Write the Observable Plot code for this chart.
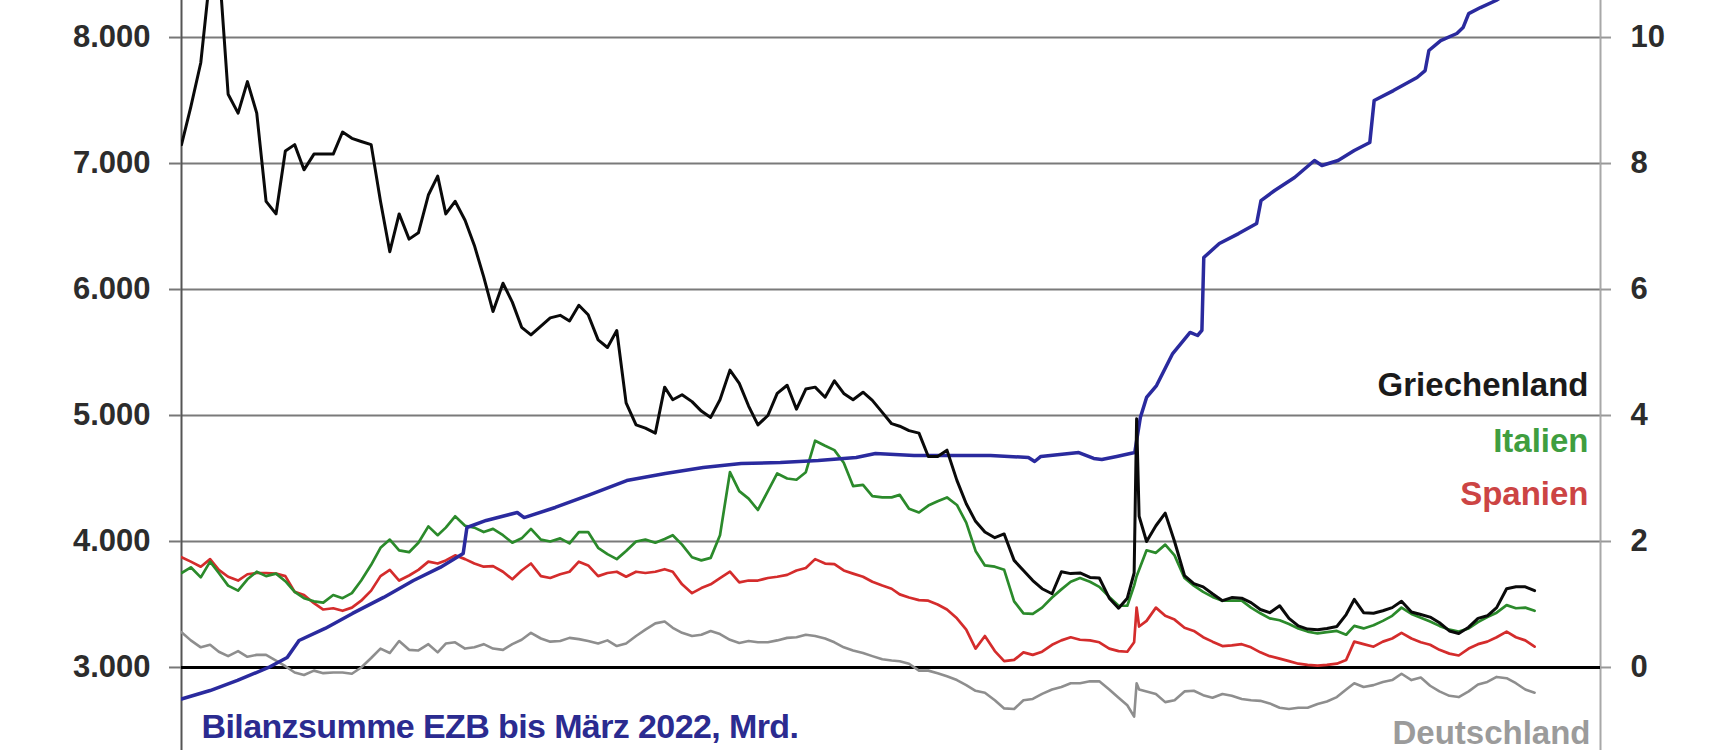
<!DOCTYPE html>
<html>
<head>
<meta charset="utf-8">
<script src="https://cdn.jsdelivr.net/npm/d3@7"></script>
<script src="https://cdn.jsdelivr.net/npm/@observablehq/plot@0.6"></script>
<style>
  html, body { margin: 0; padding: 0; background: #fff; }
  #chart { width: 1720px; height: 750px; overflow: hidden; }
</style>
</head>
<body>
<div id="chart"></div>
<script>
// ---------- DATA ----------
// observation dates for the 10-year yields (semi-monthly, denser around March 2020)
const dates = [
  "2016-01-01","2016-01-16","2016-02-01","2016-02-16","2016-03-01","2016-03-16","2016-04-01","2016-04-16","2016-05-01","2016-05-16","2016-06-01","2016-06-16","2016-07-01","2016-07-16","2016-08-01","2016-08-16","2016-09-01","2016-09-16","2016-10-01","2016-10-16","2016-11-01","2016-11-16","2016-12-01","2016-12-16",
  "2017-01-01","2017-01-16","2017-02-01","2017-02-16","2017-03-01","2017-03-16","2017-04-01","2017-04-16","2017-05-01","2017-05-16","2017-06-01","2017-06-16","2017-07-01","2017-07-16","2017-08-01","2017-08-16","2017-09-01","2017-09-16","2017-10-01","2017-10-16","2017-11-01","2017-11-16","2017-12-01","2017-12-16",
  "2018-01-01","2018-01-16","2018-02-01","2018-02-16","2018-03-01","2018-03-16","2018-04-01","2018-04-16","2018-05-01","2018-05-16","2018-06-01","2018-06-16","2018-07-01","2018-07-16","2018-08-01","2018-08-16","2018-09-01","2018-09-16","2018-10-01","2018-10-16","2018-11-01","2018-11-16","2018-12-01","2018-12-16",
  "2019-01-01","2019-01-16","2019-02-01","2019-02-16","2019-03-01","2019-03-16","2019-04-01","2019-04-16","2019-05-01","2019-05-16","2019-06-01","2019-06-16","2019-07-01","2019-07-16","2019-08-01","2019-08-16","2019-09-01","2019-09-16","2019-10-01","2019-10-16","2019-11-01","2019-11-16","2019-12-01","2019-12-16",
  "2020-01-01","2020-01-16","2020-02-01","2020-02-16","2020-03-01","2020-03-12","2020-03-16","2020-03-20","2020-04-01","2020-04-16","2020-05-01","2020-05-16","2020-06-01","2020-06-16","2020-07-01","2020-07-16","2020-08-01","2020-08-16","2020-09-01","2020-09-16","2020-10-01","2020-10-16","2020-11-01","2020-11-16","2020-12-01","2020-12-16",
  "2021-01-01","2021-01-16","2021-02-01","2021-02-16","2021-03-01","2021-03-16","2021-04-01","2021-04-16","2021-05-01","2021-05-16","2021-06-01","2021-06-16","2021-07-01","2021-07-16","2021-08-01","2021-08-16","2021-09-01","2021-09-16","2021-10-01","2021-10-16","2021-11-01","2021-11-16","2021-12-01","2021-12-16"
];

// 10-year government bond yields, % (right axis)
const griechenland = [
  8.3, 8.9, 9.6, 11.0, 11.2, 9.1, 8.8, 9.3, 8.8, 7.4,
  7.2, 8.2, 8.3, 7.9, 8.15, 8.15, 8.15, 8.5, 8.4, 8.35,
  8.3, 7.4, 6.6, 7.2, 6.8, 6.9, 7.5, 7.8, 7.2, 7.4,
  7.1, 6.7, 6.2, 5.65, 6.1, 5.8, 5.4, 5.28, 5.42, 5.55,
  5.59, 5.5, 5.75, 5.6, 5.2, 5.08, 5.35, 4.2, 3.85, 3.8,
  3.72, 4.45, 4.25, 4.33, 4.22, 4.07, 3.97, 4.25, 4.72, 4.51,
  4.15, 3.85, 4.0, 4.35, 4.48, 4.1, 4.42, 4.45, 4.29, 4.55,
  4.35, 4.25, 4.37, 4.24, 4.05, 3.87, 3.83, 3.76, 3.72, 3.35,
  3.35, 3.45, 2.97, 2.6, 2.32, 2.15, 2.06, 2.12, 1.7, 1.54,
  1.38, 1.25, 1.17, 1.52, 1.49, 1.5, 1.43, 1.42, 1.1, 0.94,
  1.1, 1.5, 3.95, 2.4, 2.0, 2.25, 2.45, 2.0, 1.46, 1.33, 1.28, 1.17,
  1.06, 1.11, 1.1, 1.03, 0.92, 0.87, 0.98, 0.78, 0.66, 0.61,
  0.6, 0.62, 0.65, 0.84, 1.08, 0.87, 0.86, 0.9, 0.95, 1.05,
  0.88, 0.84, 0.8, 0.71, 0.58, 0.54, 0.64, 0.78, 0.82, 0.95,
  1.25, 1.28, 1.28, 1.22
];
const italien = [
  1.5, 1.59, 1.43, 1.68, 1.5, 1.3, 1.22, 1.4, 1.52, 1.45,
  1.49, 1.37, 1.2, 1.1, 1.05, 1.03, 1.15, 1.1, 1.18, 1.38,
  1.63, 1.9, 2.03, 1.86, 1.83, 1.98, 2.24, 2.1, 2.22, 2.4,
  2.25, 2.22, 2.15, 2.2, 2.1, 1.98, 2.05, 2.2, 2.03, 2.0,
  2.05, 1.97, 2.15, 2.15, 1.9, 1.8, 1.72, 1.85, 2.0, 2.03,
  1.98, 2.04, 2.1, 1.95, 1.75, 1.7, 1.74, 2.1, 3.1, 2.8,
  2.68, 2.5, 2.8, 3.08, 3.0, 2.98, 3.1, 3.6, 3.52, 3.45,
  3.25, 2.88, 2.9, 2.72, 2.7, 2.7, 2.74, 2.52, 2.46, 2.57,
  2.64, 2.7, 2.58, 2.3, 1.85, 1.62, 1.6, 1.55, 1.05, 0.86,
  0.85, 0.95, 1.11, 1.24, 1.36, 1.42, 1.36, 1.28, 1.12, 0.98,
  0.98, 1.3, 1.45, 1.55, 1.86, 1.82, 1.95, 1.78, 1.42, 1.3, 1.2, 1.12,
  1.06, 1.06, 1.06, 0.95, 0.86, 0.78, 0.75, 0.69, 0.62, 0.57,
  0.54, 0.56, 0.58, 0.52, 0.66, 0.62, 0.67, 0.74, 0.82, 0.95,
  0.85, 0.79, 0.73, 0.66, 0.6, 0.57, 0.62, 0.72, 0.8, 0.87,
  0.99, 0.94, 0.95, 0.9
];
const spanien = [
  1.75, 1.68, 1.6, 1.72, 1.55, 1.44, 1.38, 1.48, 1.5, 1.5,
  1.49, 1.45, 1.2, 1.15, 1.02, 0.92, 0.94, 0.9, 0.95, 1.06,
  1.22, 1.45, 1.55, 1.38, 1.46, 1.55, 1.68, 1.65, 1.7, 1.78,
  1.72, 1.65, 1.6, 1.61, 1.52, 1.4, 1.54, 1.65, 1.45, 1.42,
  1.48, 1.52, 1.68, 1.62, 1.45, 1.5, 1.52, 1.44, 1.52, 1.5,
  1.52, 1.56, 1.52, 1.32, 1.18, 1.26, 1.32, 1.42, 1.52, 1.35,
  1.38, 1.38, 1.42, 1.44, 1.47, 1.54, 1.58, 1.72, 1.65, 1.64,
  1.54, 1.49, 1.44, 1.36, 1.3, 1.25, 1.16, 1.11, 1.07, 1.06,
  1.0, 0.92, 0.78, 0.6, 0.3, 0.5, 0.26, 0.1, 0.12, 0.24,
  0.2, 0.25, 0.36, 0.43, 0.48, 0.44, 0.43, 0.4, 0.3, 0.26,
  0.25, 0.4, 0.95, 0.65, 0.74, 0.95, 0.82, 0.76, 0.63, 0.58, 0.48, 0.41,
  0.34, 0.35, 0.37, 0.32, 0.24, 0.18, 0.14, 0.1, 0.06, 0.04,
  0.03, 0.04, 0.06, 0.12, 0.41, 0.37, 0.33, 0.41, 0.46, 0.55,
  0.46, 0.4, 0.36, 0.28, 0.22, 0.19, 0.3, 0.37, 0.41, 0.48,
  0.57, 0.48, 0.43, 0.33
];
const deutschland = [
  0.56, 0.43, 0.32, 0.36, 0.25, 0.18, 0.26, 0.17, 0.2, 0.2,
  0.11, 0.02, -0.08, -0.12, -0.05, -0.09, -0.08, -0.08, -0.1, 0.0,
  0.15, 0.3, 0.23, 0.42, 0.28, 0.27, 0.37, 0.24, 0.38, 0.4,
  0.3, 0.32, 0.37, 0.3, 0.28, 0.37, 0.44, 0.55, 0.46, 0.41,
  0.42, 0.47, 0.45, 0.42, 0.38, 0.43, 0.34, 0.38, 0.5, 0.6,
  0.7, 0.73, 0.63, 0.55, 0.5, 0.52, 0.58, 0.53, 0.44, 0.39,
  0.42, 0.4, 0.4, 0.43, 0.47, 0.48, 0.52, 0.5, 0.46, 0.4,
  0.32, 0.27, 0.23, 0.18, 0.13, 0.11, 0.1, 0.06, -0.05, -0.05,
  -0.09, -0.14, -0.2, -0.28, -0.37, -0.4, -0.52, -0.65, -0.66, -0.52,
  -0.5, -0.42, -0.35, -0.31, -0.25, -0.25, -0.22, -0.22, -0.35, -0.48,
  -0.6, -0.78, -0.25, -0.35, -0.38, -0.42, -0.55, -0.52, -0.38, -0.37, -0.44, -0.48,
  -0.42, -0.45, -0.5, -0.52, -0.53, -0.57, -0.64, -0.66, -0.64, -0.64,
  -0.58, -0.54, -0.47, -0.35, -0.25, -0.31, -0.28, -0.23, -0.2, -0.1,
  -0.2, -0.16, -0.29, -0.38, -0.45, -0.47, -0.38, -0.27, -0.23, -0.15,
  -0.17, -0.25, -0.35, -0.4
];

// ECB balance sheet, bn EUR (left axis)
const ezbDates = [
  "2016-01-01","2016-02-16","2016-03-31","2016-05-20","2016-06-19","2016-07-08","2016-08-19","2016-10-02","2016-11-21",
  "2017-01-08","2017-02-20","2017-03-29","2017-04-04","2017-05-05","2017-06-24","2017-07-05","2017-08-24","2017-10-18","2017-12-17",
  "2018-02-17","2018-04-19","2018-06-19","2018-08-21","2018-10-21","2018-12-21",
  "2019-01-21","2019-03-24","2019-05-25","2019-07-25","2019-09-24","2019-10-04","2019-10-14","2019-12-14",
  "2020-01-07","2020-01-20","2020-02-13","2020-03-13","2020-03-22","2020-04-01","2020-04-17","2020-05-13","2020-06-10","2020-06-22","2020-06-29","2020-07-02","2020-07-27","2020-08-27","2020-09-25","2020-10-02","2020-10-24","2020-11-25","2020-12-27",
  "2021-01-08","2021-02-03","2021-03-01","2021-03-26","2021-04-02","2021-05-03","2021-06-10","2021-06-23","2021-06-29","2021-07-18","2021-08-13","2021-08-23","2021-09-01","2021-09-20","2021-10-15","2021-11-24",
  "2022-01-03","2022-02-14","2022-03-25"
];
const ezbBilanz = [
  2750, 2817, 2897, 3000, 3079, 3214, 3310, 3429, 3556,
  3690, 3794, 3905, 4111, 4167, 4230, 4190, 4270, 4370, 4484,
  4540, 4587, 4619, 4627, 4643, 4667,
  4698, 4683, 4683, 4683, 4667, 4635, 4675, 4706,
  4659, 4651, 4675, 4706, 4984, 5143, 5238, 5492, 5659, 5635, 5675, 6254, 6365, 6444, 6524, 6706, 6786, 6889, 7024,
  6984, 7024, 7103, 7167, 7500, 7579, 7683, 7738, 7897, 7976, 8032, 8079, 8190, 8238, 8294, 8420,
  8560, 8680, 8750
];

// axis ticks
const leftTicks = [3000, 4000, 5000, 6000, 7000, 8000];
const rightTicks = [0, 2, 4, 6, 8, 10];

// series names, colours
const seriesNames = ["Deutschland", "Spanien", "Italien", "Griechenland"];
const seriesValues = { Deutschland: deutschland, Spanien: spanien, Italien: italien, Griechenland: griechenland };
const lineColors = { Deutschland: "#8e8e8e", Spanien: "#d42c2c", Italien: "#2b8a2b", Griechenland: "#0a0a0a" };
const labelColors = { Deutschland: "#9b9b9b", Spanien: "#cc4444", Italien: "#3f9e3f", Griechenland: "#1a1a1a" };
const captionText = "Bilanzsumme EZB bis März 2022, Mrd.";

// ---------- BUILD ----------
const xStart = new Date("2016-01-01");
const xEnd = new Date("2022-04-01");
// right axis (%) drawn on the left scale: 0 % = 3.000, 2 % per 1.000
const toLeft = v => 3000 + v * 500;
const fromLeft = d => (d - 3000) / 500;
const leftFmt = d => d3.format(",")(d).replace(/,/g, ".");

const rows = {};
for (const name of seriesNames) {
  const vals = seriesValues[name];
  const n = Math.min(vals.length, dates.length);
  rows[name] = d3.range(n).map(i => ({ date: new Date(dates[i]), v: vals[i] }));
}
const ezbRows = d3.range(Math.min(ezbDates.length, ezbBilanz.length))
  .map(i => ({ date: new Date(ezbDates[i]), v: ezbBilanz[i] }));

const labelFont = { fontSize: 33, fontWeight: "bold" };

const chart = Plot.plot({
  width: 1720,
  height: 750,
  marginLeft: 181,
  marginRight: 120,
  marginTop: 0,
  marginBottom: 0,
  style: { fontFamily: "'Liberation Sans', Arial, Helvetica, sans-serif", background: "#fff" },
  x: { type: "utc", domain: [xStart, xEnd], axis: null },
  y: { domain: [2341, 8294] },
  marks: [
    // gridlines
    Plot.ruleY(leftTicks.filter(d => d !== 3000), { stroke: "#7a7a7a", strokeWidth: 2 }),
    // axis lines
    Plot.ruleX([xStart], { stroke: "#555", strokeWidth: 2 }),
    Plot.ruleX([xEnd], { stroke: "#a8a8a8", strokeWidth: 2 }),
    // axes
    Plot.axisY({
      anchor: "left", ticks: leftTicks, tickFormat: leftFmt, label: null,
      tickSize: 12, tickPadding: 19, fontSize: 31, fontWeight: "bold",
      color: "#2c2c2c", stroke: "#777", strokeWidth: 2
    }),
    Plot.axisY({
      anchor: "right", ticks: rightTicks.map(toLeft), tickFormat: d => String(fromLeft(d)), label: null,
      tickSize: 10, tickPadding: 20, fontSize: 31, fontWeight: "bold",
      color: "#2c2c2c", stroke: "#999", strokeWidth: 2
    }),
    // zero line
    Plot.ruleY([3000], { stroke: "#000", strokeWidth: 3 }),
    // yields
    Plot.line(rows.Deutschland, { x: "date", y: d => toLeft(d.v), stroke: lineColors.Deutschland, strokeWidth: 2.6, strokeLinejoin: "round", clip: true }),
    Plot.line(rows.Spanien, { x: "date", y: d => toLeft(d.v), stroke: lineColors.Spanien, strokeWidth: 2.7, strokeLinejoin: "round", clip: true }),
    Plot.line(rows.Italien, { x: "date", y: d => toLeft(d.v), stroke: lineColors.Italien, strokeWidth: 2.7, strokeLinejoin: "round", clip: true }),
    // ECB balance sheet
    Plot.line(ezbRows, { x: "date", y: "v", stroke: "#2a2a9e", strokeWidth: 3.5, strokeLinejoin: "round", clip: true }),
    Plot.line(rows.Griechenland, { x: "date", y: d => toLeft(d.v), stroke: lineColors.Griechenland, strokeWidth: 3, strokeLinejoin: "round", clip: true }),
    // series labels
    Plot.text(["Griechenland"], { text: d => d, frameAnchor: "right", dx: -12, y: () => 5238, textAnchor: "end", fill: labelColors.Griechenland, ...labelFont }),
    Plot.text(["Italien"], { text: d => d, frameAnchor: "right", dx: -12, y: () => 4795, textAnchor: "end", fill: labelColors.Italien, ...labelFont }),
    Plot.text(["Spanien"], { text: d => d, frameAnchor: "right", dx: -12, y: () => 4375, textAnchor: "end", fill: labelColors.Spanien, ...labelFont }),
    Plot.text(["Deutschland"], { text: d => d, frameAnchor: "right", dx: -10, y: () => 2476, textAnchor: "end", fill: labelColors.Deutschland, ...labelFont }),
    // caption
    Plot.text([captionText], { text: d => d, frameAnchor: "left", dx: 20, y: () => 2524, textAnchor: "start", fill: "#2b2b90", fontSize: 34, fontWeight: "bold", className: "caption" })
  ]
});

document.getElementById("chart").appendChild(chart);
d3.select(chart).selectAll(".caption text").style("letter-spacing", "-0.6px");
</script>
</body>
</html>
